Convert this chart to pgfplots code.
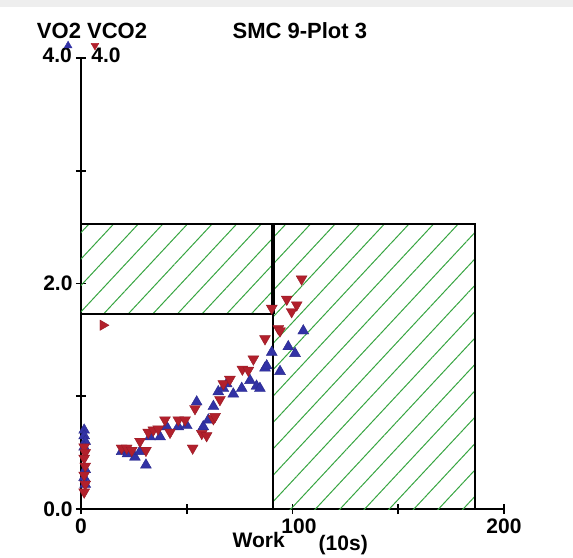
\documentclass[border=0pt]{standalone}
\usepackage{fontspec}
\setmainfont{Liberation Sans}
\usepackage{pgfplots}
\pgfplotsset{compat=1.18}
\usetikzlibrary{patterns.meta}
\definecolor{vored}{RGB}{178,32,44}
\definecolor{voblue}{RGB}{50,50,165}
\definecolor{hatch}{RGB}{55,165,65}
\begin{document}
\begin{tikzpicture}
\useasboundingbox (-81pt,-48pt) rectangle (492pt,509pt);
\fill[gray!13] (-81pt,502pt) rectangle (492pt,509pt);
\begin{axis}[
  at={(0,0)}, anchor=south west,
  scale only axis, width=423pt, height=451pt,
  xmin=0, xmax=200, ymin=0, ymax=4,
  axis x line=bottom, axis y line=left,
  axis line style={-, line width=1.8pt, black},
  xtick={0,50,100,150,200}, xticklabels={0,,{\kern13pt 100},,200},
  ytick={0,1,2,3,4}, yticklabels={0.0,,2.0,,},
  tick align=center, major tick length=10pt,
  tick style={line width=1.8pt, black},
  every tick label/.append style={font=\fontsize{21}{21}\selectfont\bfseries},
  xticklabel style={yshift=-1.5pt},
  /pgf/number format/assume math mode=true,
  clip=false,
]
% hatched zones
\fill[pattern={Lines[angle=47, distance=18pt, line width=1pt]}, pattern color=hatch]
  (axis cs:0,1.73) rectangle (axis cs:90.8,2.53);
\fill[pattern={Lines[angle=47, distance=18pt, line width=1pt]}, pattern color=hatch]
  (axis cs:90.8,0) rectangle (axis cs:186.3,2.53);
\draw[line width=1.6pt] (axis cs:0,2.53) -- (axis cs:186.3,2.53) -- (axis cs:186.3,0);
\draw[line width=1.6pt] (axis cs:0,1.73) -- (axis cs:90.8,1.73);
\draw[line width=1.8pt] (axis cs:90.8,0) -- (axis cs:90.8,1.73);
\draw[line width=3.6pt] (axis cs:90.8,1.73) -- (axis cs:90.8,2.53);

% VO2
\addplot[only marks, mark=triangle*, mark size=6.3pt, color=voblue!85!black, mark options={fill=voblue}]
coordinates {
(1.5,0.70)(1.5,0.65)(2,0.60)(1.5,0.55)(2,0.35)(1.5,0.28)(2,0.22)
(19.2,0.51)(22,0.49)(25.5,0.46)(27.9,0.51)(30.7,0.39)(32.6,0.64)(37.4,0.64)
(40.5,0.73)(46,0.73)(50,0.74)(54.7,0.95)(57.8,0.73)(60.2,0.79)(62.6,0.91)
(64.9,1.04)(67.3,1.07)(68.9,1.11)(72,1.02)(76,1.07)(79.9,1.14)(83,1.09)
(84.6,1.07)(87,1.25)(87.8,1.27)(90.2,1.39)(94.1,1.22)(98,1.44)(101.2,1.38)
(105.1,1.58)
};
% VCO2
\addplot[only marks, mark=triangle*, mark size=6.3pt, color=vored!85!black, mark options={fill=vored, rotate=180}]
coordinates {
(1.5,0.55)(2,0.50)(1.5,0.45)(2,0.38)(1.5,0.30)(2,0.22)(1.5,0.15)
(19.2,0.54)(21.6,0.54)(24,0.52)(27.9,0.60)(30.7,0.52)(31.8,0.68)(34.2,0.70)
(36.5,0.71)(39.7,0.79)(42.1,0.68)(46,0.79)(49.2,0.79)(52.8,0.54)(53.9,0.89)
(57.1,0.67)(59.4,0.65)(62.6,0.80)(63.4,0.82)(65.7,0.97)(67.3,1.11)(70.4,1.15)
(76.3,1.24)(79.1,1.23)(81.5,1.33)(87,1.51)(90.2,1.78)(93.3,1.60)(94.1,1.58)
(97.3,1.86)(99.6,1.75)(102,1.81)(104.3,2.04)
};
\addplot[only marks, mark=triangle*, mark size=6pt, color=vored!85!black, mark options={fill=vored, rotate=-90}]
coordinates {(10.4,1.63)};
% legend glyphs
\addplot[only marks, mark=triangle*, mark size=4.5pt, color=voblue, mark options={fill=voblue}]
coordinates {(-6.1,4.11)};
\addplot[only marks, mark=triangle*, mark size=4.5pt, color=vored, mark options={fill=vored, rotate=180}]
coordinates {(6.6,4.11)};

\node[font=\fontsize{22}{22}\selectfont\bfseries] at (axis cs:5.2,4.24) {VO2 VCO2};
\node[font=\fontsize{22}{22}\selectfont\bfseries] at (axis cs:103.5,4.24) {SMC 9-Plot 3};
\node[font=\fontsize{21}{21}\selectfont\bfseries, anchor=east, inner sep=0pt] at (axis cs:-4.2,4.02) {4.0};
\node[font=\fontsize{21}{21}\selectfont\bfseries, anchor=west, inner sep=0pt] at (axis cs:4.8,4.02) {4.0};
\node[font=\fontsize{21}{21}\selectfont\bfseries] at (axis cs:84.0,-0.274) {Work};
\node[font=\fontsize{21}{21}\selectfont\bfseries] at (axis cs:124,-0.32) {(10s)};
\end{axis}
\end{tikzpicture}
\end{document}
